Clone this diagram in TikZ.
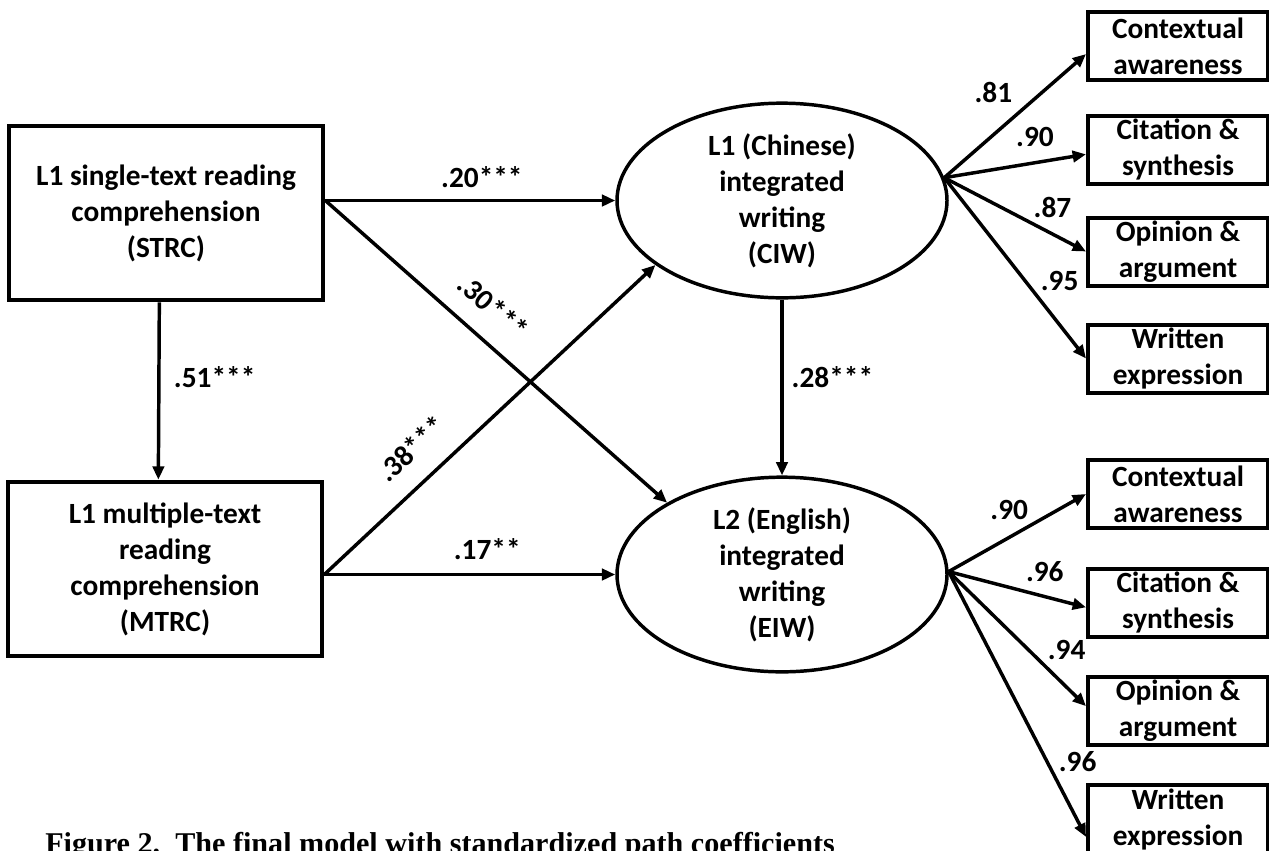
\documentclass[tikz,border=0pt]{standalone}
\usepackage{fontspec}
\setmainfont{Carlito}
\newfontfamily\captionfont{Liberation Serif}
\usetikzlibrary{arrows.meta}
\usetikzlibrary{shapes.geometric}
\newcommand{\widthmeasure}{236pt}
\newcommand{\heightmeasure}{131pt}
\newcommand{\widthindicator}{135pt}
\newcommand{\heightindicator}{51pt}
\newcommand{\textsem}{\fontsize{22}{27}\selectfont\bfseries}
\tikzset{
    common/.style={draw, line width=3pt, align=center, font=\textsem},
    measure/.style={common, rectangle, minimum width=\widthmeasure, minimum height=\heightmeasure},
    latent/.style={common, ellipse, line width=2.6pt, minimum width=247.5pt, minimum height=146pt, inner sep=0pt},
    indicator/.style={common, rectangle, minimum width=\widthindicator, minimum height=\heightindicator, inner sep=0pt},
    effect/.style={-{Triangle[length=10pt, width=8.5pt]}, line width=2.6pt},
    coef/.style={font=\textsem, inner sep=2pt}
}

\begin{document}
\begin{tikzpicture}[x=0.75pt, y=-0.75pt]
            \useasboundingbox (0,0) rectangle (1269,850);

            \node[measure] (strc) at (166,213) {L1 single-text reading\\comprehension\\(STRC)};
            \node[measure] (mtrc) at (165,569) {L1 multiple-text\\reading\\comprehension\\(MTRC)};
            \node[latent] (ciw) at (782,200.5) {L1 (Chinese)\\integrated\\writing\\(CIW)};
            \node[latent] (eiw) at (782,574.5) {L2 (English)\\integrated\\writing\\(EIW)};

            \node[indicator] (ciw-context) at (1178,46) {Contextual\\awareness};
            \node[indicator] (ciw-citation) at (1178,149.5) {Citation \&\\synthesis};
            \node[indicator] (ciw-opinion) at (1178,251.5) {Opinion \&\\argument};
            \node[indicator] (ciw-written) at (1178,358.5) {Written\\expression};

            \node[indicator] (eiw-context) at (1178,494) {Contextual\\awareness};
            \node[indicator] (eiw-citation) at (1178,602.5) {Citation \&\\synthesis};
            \node[indicator] (eiw-opinion) at (1178,711) {Opinion \&\\argument};
            \node[indicator] (eiw-written) at (1178,819) {Written\\expression};

            \draw[effect] ([xshift=-5pt]strc.south) -- node[coef, pos=0.42, right=8pt] {.51***} ([xshift=-5pt]mtrc.north);
            \draw[effect] (strc.east |- ciw.west) -- node[coef, pos=0.54, above=6pt] {.20***} (ciw.west);
            \draw[effect] (strc.east |- ciw.west) -- node[coef, pos=0.43, sloped, above, inner sep=14.6pt] {.30***} (eiw.148);
            \draw[effect] (mtrc.east |- eiw.west) -- node[coef, pos=0.33, sloped, above, inner sep=15.4pt] {.38***} (ciw.207);
            \draw[effect] (mtrc.east |- eiw.west) -- node[coef, pos=0.56, above=7.5pt] {.17**} (eiw.west);
            \draw[effect] (ciw.south) -- node[coef, pos=0.44, right=4pt] {.28***} (eiw.north);

            \draw[effect] (ciw.8) -- node[coef, pos=0.51, anchor=south east, yshift=6pt] {.81} (ciw-context.185);
            \draw[effect] (ciw.8) -- node[coef, pos=0.64, anchor=south, yshift=9pt] {.90} (ciw-citation.183);
            \draw[effect] (ciw.8) -- node[coef, pos=0.6, anchor=south west] {.87} (ciw-opinion.west);
            \draw[effect] (ciw.8) -- node[coef, pos=0.65, anchor=south west] {.95} (ciw-written.west);

            \draw[effect] (eiw.1) -- node[coef, pos=0.61, anchor=south east] {.90} (eiw-context.west);
            \draw[effect] (eiw.1) -- node[coef, pos=0.7, anchor=south, yshift=8pt] {.96} (eiw-citation.183);
            \draw[effect] (eiw.1) -- node[coef, pos=0.69, anchor=south west] {.94} (eiw-opinion.177);
            \draw[effect] (eiw.1) -- node[coef, pos=0.77, anchor=south west] {.96} (eiw-written.191);

            \node[anchor=base west, inner sep=0pt, font=\captionfont\bfseries\fontsize{22.6}{27}\selectfont] (caption) at (45,853) {Figure 2.\ \ The final model with standardized path coefficients};
\end{tikzpicture}
\end{document}
